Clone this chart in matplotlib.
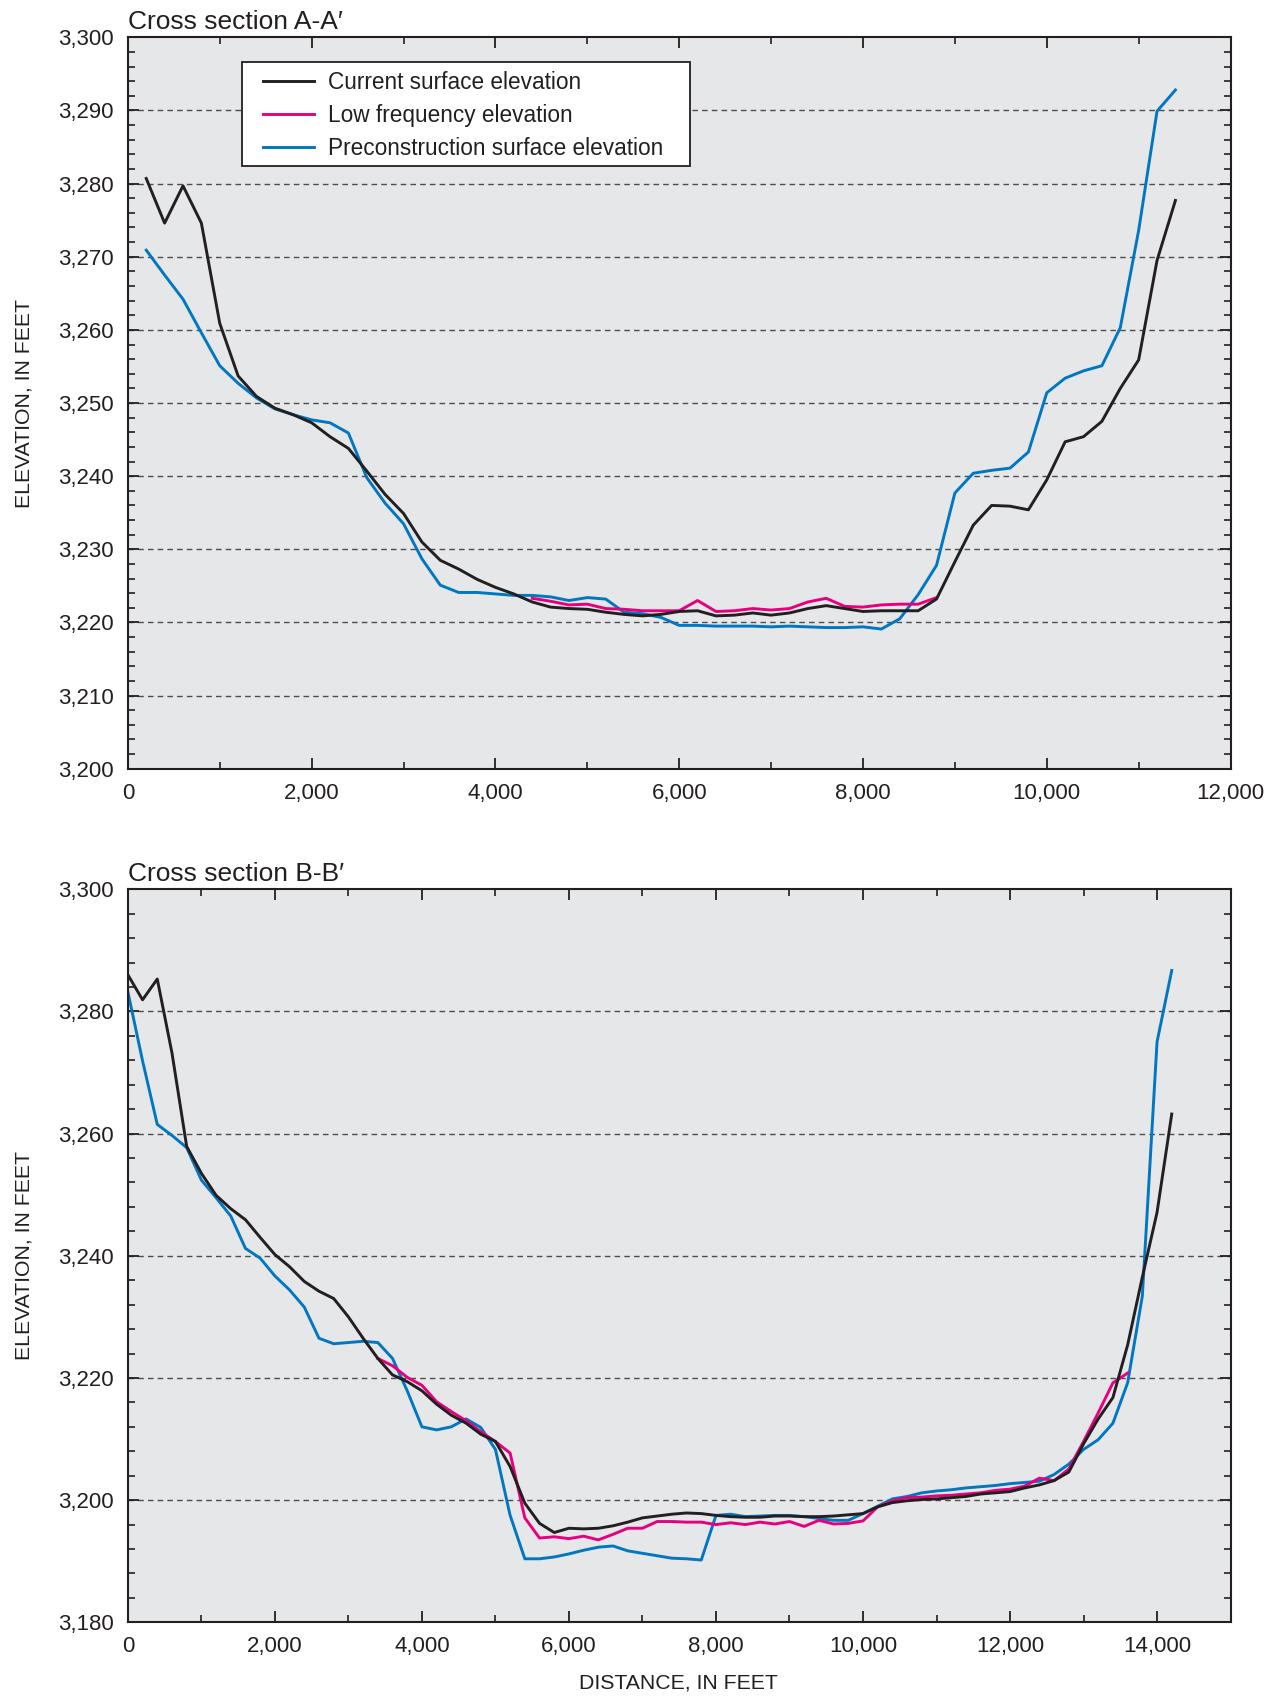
import matplotlib
matplotlib.use('Agg')
import matplotlib.pyplot as plt
from matplotlib.ticker import MultipleLocator, FuncFormatter
from matplotlib.patches import Rectangle
import numpy as np

plt.rcParams['font.family'] = ['Liberation Sans', 'DejaVu Sans']

# ---- cross section A-A' (200 ft stations) ----
a_x = list(range(200, 11600, 200))
a_current = [3280.7, 3274.6, 3279.7, 3274.6, 3260.9, 3253.7, 3250.9, 3249.3, 3248.4, 3247.3,
             3245.4, 3243.8, 3240.7, 3237.5, 3234.9, 3231.0, 3228.5, 3227.3, 3225.9, 3224.8,
             3223.9, 3222.8, 3222.1, 3221.9, 3221.8, 3221.4, 3221.1, 3220.9, 3221.1, 3221.5,
             3221.6, 3220.9, 3221.0, 3221.3, 3221.0, 3221.3, 3221.9, 3222.3, 3221.9, 3221.5,
             3221.6, 3221.6, 3221.6, 3223.2, 3228.3, 3233.3, 3236.0, 3235.9, 3235.4, 3239.5,
             3244.7, 3245.4, 3247.5, 3252.0, 3255.9, 3269.5, 3277.7]
a_precon = [3270.9, 3267.5, 3264.2, 3259.6, 3255.1, 3252.7, 3250.7, 3249.2, 3248.4, 3247.7,
            3247.3, 3245.9, 3239.8, 3236.3, 3233.5, 3228.7, 3225.1, 3224.1, 3224.1, 3223.9,
            3223.7, 3223.7, 3223.5, 3223.0, 3223.4, 3223.2, 3221.4, 3221.2, 3220.7, 3219.6,
            3219.6, 3219.5, 3219.5, 3219.5, 3219.4, 3219.5, 3219.4, 3219.3, 3219.3, 3219.4,
            3219.1, 3220.5, 3223.8, 3227.8, 3237.7, 3240.4, 3240.8, 3241.1, 3243.3, 3251.4,
            3253.4, 3254.4, 3255.1, 3260.3, 3273.6, 3289.9, 3292.8]
a_lowx = list(range(4400, 9000, 200))
a_low = [3223.3, 3222.9, 3222.4, 3222.5, 3221.9, 3221.8, 3221.6, 3221.6, 3221.6, 3223.0,
         3221.5, 3221.6, 3221.9, 3221.7, 3221.9, 3222.8, 3223.3, 3222.2, 3222.1, 3222.4,
         3222.5, 3222.5, 3223.4]

# ---- cross section B-B' (200 ft stations) ----
b_x = list(range(0, 14400, 200))
b_current = [3286.0, 3281.9, 3285.3, 3273.2, 3257.9, 3253.5, 3249.9, 3247.7, 3245.9, 3243.0,
             3240.2, 3238.2, 3235.8, 3234.2, 3233.0, 3230.0, 3226.5, 3223.2, 3220.5, 3219.4,
             3217.9, 3215.7, 3213.9, 3212.6, 3210.8, 3209.6, 3205.5, 3199.5, 3196.2, 3194.7,
             3195.4, 3195.3, 3195.4, 3195.8, 3196.4, 3197.1, 3197.4, 3197.7, 3197.9, 3197.8,
             3197.5, 3197.3, 3197.2, 3197.2, 3197.4, 3197.4, 3197.3, 3197.3, 3197.4, 3197.6,
             3197.8, 3198.9, 3199.6, 3199.9, 3200.1, 3200.2, 3200.4, 3200.6, 3201.0, 3201.2,
             3201.4, 3202.0, 3202.5, 3203.2, 3204.6, 3209.2, 3213.3, 3216.8, 3225.4, 3236.5,
             3247.1, 3263.2]
b_precon = [3283.2, 3271.9, 3261.5, 3259.7, 3257.7, 3252.4, 3249.5, 3246.5, 3241.2, 3239.6,
            3236.7, 3234.4, 3231.6, 3226.5, 3225.6, 3225.8, 3226.0, 3225.8, 3223.2, 3217.9,
            3212.0, 3211.5, 3212.0, 3213.3, 3211.9, 3208.3, 3197.5, 3190.4, 3190.4, 3190.7,
            3191.2, 3191.8, 3192.3, 3192.5, 3191.7, 3191.3, 3190.9, 3190.5, 3190.4, 3190.2,
            3197.5, 3197.7, 3197.3, 3197.4, 3197.5, 3197.5, 3197.3, 3197.0, 3196.7, 3196.7,
            3197.8, 3199.0, 3200.2, 3200.6, 3201.2, 3201.5, 3201.7, 3202.0, 3202.2, 3202.4,
            3202.7, 3202.9, 3203.1, 3204.2, 3205.9, 3208.3, 3209.9, 3212.6, 3219.2, 3233.4,
            3275.0, 3286.7]
b_lowx = list(range(3400, 13800, 200))
b_low = [3223.2, 3222.0, 3220.1, 3218.8, 3216.1, 3214.5, 3213.0, 3211.2, 3209.6, 3207.7,
         3197.1, 3193.8, 3194.0, 3193.7, 3194.1, 3193.5, 3194.4, 3195.4, 3195.4, 3196.5,
         3196.5, 3196.4, 3196.4, 3196.0, 3196.3, 3196.0, 3196.4, 3196.1, 3196.5, 3195.7,
         3196.7, 3196.1, 3196.2, 3196.6, 3198.9, 3199.9, 3200.4, 3200.5, 3200.7, 3200.8,
         3201.0, 3201.2, 3201.6, 3201.8, 3202.3, 3203.6, 3203.2, 3205.1, 3209.6, 3214.3,
         3219.2, 3220.8]

c_black = '#231f20'
c_mag = '#e6007e'
c_blue = '#0077c0'
bg = '#e6e7e9'

fig = plt.figure(figsize=(12.66, 16.97), dpi=100)
ax1 = fig.add_axes([0.101, 0.547, 0.871, 0.431])
ax2 = fig.add_axes([0.101, 0.044, 0.871, 0.432])

comma = FuncFormatter(lambda v, p: '{:,.0f}'.format(v))

def style(ax, xmax, ymin, ymax, ymaj, ymin_step, title):
    ax.set_facecolor(bg)
    ax.set_xlim(0, xmax)
    ax.set_ylim(ymin, ymax)
    ax.xaxis.set_major_locator(MultipleLocator(2000))
    ax.xaxis.set_minor_locator(MultipleLocator(1000))
    ax.yaxis.set_major_locator(MultipleLocator(ymaj))
    ax.yaxis.set_minor_locator(MultipleLocator(ymin_step))
    ax.xaxis.set_major_formatter(comma)
    ax.yaxis.set_major_formatter(comma)
    ax.tick_params(which='both', direction='in', top=True, right=True, color='#231f20')
    ax.tick_params(which='major', length=8, width=1.3, labelsize=16, pad=10,
                   labelcolor='#231f20')
    ax.tick_params(which='minor', length=5, width=1.2)
    for s in ax.spines.values():
        s.set_linewidth(1.5)
        s.set_color('#231f20')
    for y in np.arange(ymin + ymaj, ymax, ymaj):
        ax.axhline(y, color='#4d4d4f', lw=1, ls=(0, (4, 3)), zorder=1)
    ax.set_title(title, loc='left', fontsize=19, pad=6, color='#231f20')

style(ax1, 12000, 3200, 3300, 10, 2, 'Cross section A-A\u2032')
style(ax2, 15000, 3180, 3300, 20, 4, 'Cross section B-B\u2032')

lw = 2.1
ax1.plot(a_x, a_current, color=c_black, lw=lw, label='Current surface elevation', zorder=4)
ax1.plot(a_lowx, a_low, color=c_mag, lw=lw, label='Low frequency elevation', zorder=3)
ax1.plot(a_x, a_precon, color=c_blue, lw=lw, label='Preconstruction surface elevation', zorder=2)

ax2.plot(b_x, b_precon, color=c_blue, lw=lw, zorder=2)
ax2.plot(b_lowx, b_low, color=c_mag, lw=lw, zorder=3)
ax2.plot(b_x, b_current, color=c_black, lw=lw, zorder=4)

# legend box drawn separately so the inner padding can match
ax1.add_patch(Rectangle((0.1038, 0.8245), 0.4056, 0.1418, transform=ax1.transAxes,
                        facecolor='white', edgecolor='#231f20', lw=1.3, zorder=5))
leg = ax1.legend(loc='upper left', bbox_to_anchor=(0.1225, 0.954), borderaxespad=0,
                 fontsize=16.3, frameon=False, handlelength=2.25, handletextpad=0.62,
                 labelspacing=0.45, borderpad=0)
leg.set_zorder(6)
for t in leg.get_texts():
    t.set_color('#231f20')

for yc in (0.547 + 0.431 / 2, 0.044 + 0.432 / 2):
    fig.text(0.019, yc, 'ELEVATION, IN FEET', rotation=90, ha='center', va='center',
             fontsize=15.3, color='#231f20')
fig.text(0.536, 0.008, 'DISTANCE, IN FEET', ha='center', va='center', fontsize=15.3,
         color='#231f20')

fig.savefig('out.png', dpi=100)
